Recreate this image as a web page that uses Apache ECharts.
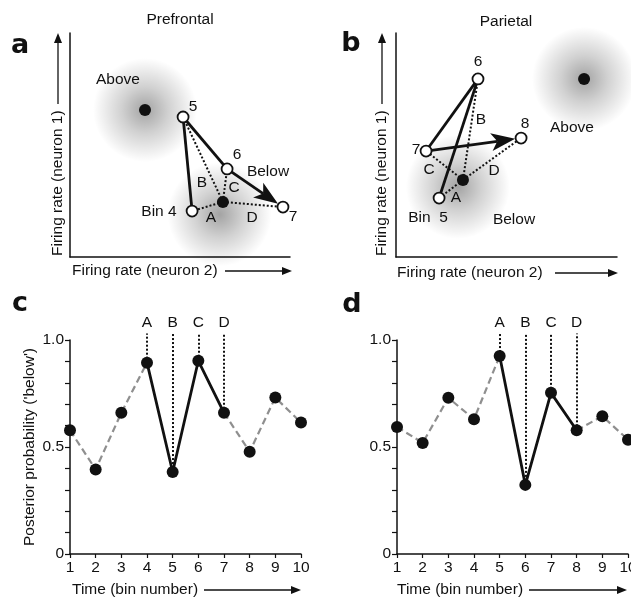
<!DOCTYPE html>
<html>
<head>
<meta charset="utf-8">
<script src="https://cdn.jsdelivr.net/npm/echarts@6.0.0/dist/echarts.min.js"></script>
<style>
  html, body { margin: 0; padding: 0; background: #fff; }
  #main { width: 631px; height: 598px; }
</style>
</head>
<body>
<div id="main"></div>
<script>
// a: prefrontal, population state per time bin (neuron 2 rate, neuron 1 rate), arbitrary units
const pfcBins = [4, 5, 6, 7];
const pfcPoints = [[5.55, 2.05], [5.14, 6.25], [7.14, 3.93], [9.68, 2.23]];
const pfcAbove = [3.41, 6.56];
const pfcBelow = [6.95, 2.46];
const pfcGlow = [[3.41, 6.56], [6.8, 1.9]];

// b: parietal
const parBins = [5, 6, 7, 8];
const parPoints = [[1.95, 2.63], [3.71, 7.95], [1.36, 4.73], [5.66, 5.31]];
const parAbove = [8.51, 7.95];
const parBelow = [3.03, 3.44];
const parGlow = [[8.51, 7.95], [2.8, 3.13]];

const distLetters = ['A', 'B', 'C', 'D'];

// c, d: posterior probability of 'below' per time bin
const timeBins = [1, 2, 3, 4, 5, 6, 7, 8, 9, 10];
const pfcPosterior = [0.578, 0.395, 0.66, 0.894, 0.383, 0.903, 0.66, 0.478, 0.731, 0.614];
const parPosterior = [0.594, 0.519, 0.73, 0.63, 0.925, 0.323, 0.753, 0.578, 0.644, 0.534];
const markTop = 1.03;
const yTickLabels = [[0, '0'], [0.5, '0.5'], [1, '1.0']];

const FONT = 'Liberation Sans, Arial, Helvetica, sans-serif';
const INK = '#111';
const FS = 15.5;

const chart = echarts.init(document.getElementById('main'));

function glowSeries(idx, pts) {
  return {
    type: 'scatter', xAxisIndex: idx, yAxisIndex: idx, silent: true, z: 1, clip: false,
    symbolSize: 104,
    itemStyle: {
      opacity: 1,
      color: {
        type: 'radial', x: 0.5, y: 0.5, r: 0.5,
        colorStops: [
          { offset: 0, color: 'rgba(0,0,0,0.36)' },
          { offset: 0.45, color: 'rgba(0,0,0,0.18)' },
          { offset: 1, color: 'rgba(0,0,0,0)' }
        ]
      }
    },
    data: pts
  };
}

function trajectorySeries(idx, pts) {
  const segs = [];
  for (let i = 0; i < pts.length - 1; i++) {
    segs.push([pts[i][0], pts[i][1], pts[i + 1][0], pts[i + 1][1], i === pts.length - 2 ? 1 : 0]);
  }
  return {
    type: 'custom', xAxisIndex: idx, yAxisIndex: idx, z: 3, silent: true, clip: false,
    data: segs,
    renderItem: function (params, api) {
      const p1 = api.coord([api.value(0), api.value(1)]);
      const p2 = api.coord([api.value(2), api.value(3)]);
      const dx = p2[0] - p1[0], dy = p2[1] - p1[1];
      const len = Math.sqrt(dx * dx + dy * dy);
      const ux = dx / len, uy = dy / len;
      if (api.value(4) !== 1) {
        return {
          type: 'line',
          shape: { x1: p1[0], y1: p1[1], x2: p2[0], y2: p2[1] },
          style: { stroke: INK, lineWidth: 2.8 }
        };
      }
      const tip = [p2[0] - ux * 6, p2[1] - uy * 6];
      const base = [tip[0] - ux * 24, tip[1] - uy * 24];
      const notch = [tip[0] - ux * 18, tip[1] - uy * 18];
      const px = -uy, py = ux;
      return {
        type: 'group',
        children: [
          {
            type: 'line',
            shape: { x1: p1[0], y1: p1[1], x2: notch[0], y2: notch[1] },
            style: { stroke: INK, lineWidth: 2.8 }
          },
          {
            type: 'polygon',
            shape: { points: [tip, [base[0] + px * 9, base[1] + py * 9], notch, [base[0] - px * 9, base[1] - py * 9]] },
            style: { fill: INK }
          }
        ]
      };
    }
  };
}

function stateSeries(idx, pts, above, below, glow) {
  return [
    glowSeries(idx, glow),
    {
      type: 'lines', coordinateSystem: 'cartesian2d', xAxisIndex: idx, yAxisIndex: idx, z: 2,
      silent: true, clip: false,
      lineStyle: { color: INK, width: 2, type: [2, 2], opacity: 1 },
      data: pts.map(p => ({ coords: [below, p] }))
    },
    trajectorySeries(idx, pts),
    {
      type: 'scatter', xAxisIndex: idx, yAxisIndex: idx, z: 4, silent: true, clip: false,
      symbolSize: 11,
      itemStyle: { color: '#fff', borderColor: INK, borderWidth: 1.8, opacity: 1 },
      data: pts
    },
    {
      type: 'scatter', xAxisIndex: idx, yAxisIndex: idx, z: 4, silent: true, clip: false,
      symbolSize: 12,
      itemStyle: { color: INK, opacity: 1 },
      data: [above, below]
    }
  ];
}

function posteriorSeries(idx, values, marked) {
  const first = marked[0] - 1, last = marked[marked.length - 1] - 1;
  const pairs = timeBins.map((t, i) => [t, values[i]]);
  const dashed = { color: '#8f8f8f', width: 2.2, type: [7, 4] };
  return [
    {
      type: 'line', xAxisIndex: idx, yAxisIndex: idx, showSymbol: false, z: 2, silent: true,
      lineStyle: dashed, data: pairs.slice(0, first + 1)
    },
    {
      type: 'line', xAxisIndex: idx, yAxisIndex: idx, showSymbol: false, z: 3, silent: true,
      lineStyle: { color: INK, width: 2.8 }, data: pairs.slice(first, last + 1)
    },
    {
      type: 'line', xAxisIndex: idx, yAxisIndex: idx, showSymbol: false, z: 2, silent: true,
      lineStyle: dashed, data: pairs.slice(last)
    },
    {
      type: 'lines', coordinateSystem: 'cartesian2d', xAxisIndex: idx, yAxisIndex: idx, z: 2,
      silent: true, clip: false,
      lineStyle: { color: INK, width: 2, type: [2, 2], opacity: 1 },
      label: { show: true, position: 'end', distance: 3, formatter: '{b}', fontSize: FS, color: INK, fontFamily: FONT },
      data: marked.map((b, i) => ({ name: distLetters[i], coords: [[b, values[b - 1]], [b, markTop]] }))
    },
    {
      type: 'scatter', xAxisIndex: idx, yAxisIndex: idx, z: 5, silent: true, clip: false,
      symbolSize: 12, itemStyle: { color: INK, opacity: 1 }, data: pairs
    }
  ];
}

const axisLine = { show: true, onZero: false, lineStyle: { color: INK, width: 1.5 } };
function stateAxis(idx) {
  return {
    type: 'value', gridIndex: idx, min: 0, max: 10,
    axisLine: axisLine, axisTick: { show: false }, axisLabel: { show: false }, splitLine: { show: false }
  };
}

const grids = [
  { left: 70, top: 33, width: 220, height: 224 },
  { left: 396, top: 33, width: 221, height: 224 },
  { left: 70, top: 340, width: 231, height: 214 },
  { left: 397, top: 340, width: 231, height: 214 }
].map(g => Object.assign({ outerBoundsMode: 'none', containLabel: false }, g));

function timeXAxis(idx) {
  return {
    type: 'value', gridIndex: idx, min: 1, max: 10, interval: 1,
    axisLine: axisLine,
    axisTick: { show: true, length: 4, lineStyle: { color: INK, width: 1.2 } },
    axisLabel: { fontSize: FS, color: INK, margin: 6, fontFamily: FONT },
    splitLine: { show: false }
  };
}
function probYAxis(idx) {
  return {
    type: 'value', gridIndex: idx, min: 0, max: 1, interval: 0.1,
    axisLine: axisLine,
    axisTick: { show: true, length: 5, lineStyle: { color: INK, width: 1.2 } },
    axisLabel: {
      fontSize: FS, color: INK, margin: 6, fontFamily: FONT,
      formatter: function (v) {
        const hit = yTickLabels.find(t => Math.abs(t[0] - v) < 1e-6);
        return hit ? hit[1] : '';
      }
    },
    splitLine: { show: false }
  };
}

// text and axis-name arrows
const gfx = [];
function txt(x, y, s, opts) {
  gfx.push(Object.assign({
    type: 'text', x: x, y: y, silent: true,
    style: Object.assign({ text: s, fontSize: FS, fill: INK, fontFamily: FONT, align: 'center', verticalAlign: 'middle' }, opts || {})
  }));
}
function hArrow(x1, x2, y) {
  gfx.push({ type: 'line', silent: true, shape: { x1: x1, y1: y, x2: x2 - 8, y2: y }, style: { stroke: INK, lineWidth: 1.3 } });
  gfx.push({ type: 'polygon', silent: true, shape: { points: [[x2, y], [x2 - 10, y - 4], [x2 - 10, y + 4]] }, style: { fill: INK } });
}
function vArrow(x, y1, y2) {
  gfx.push({ type: 'line', silent: true, shape: { x1: x, y1: y1, x2: x, y2: y2 + 8 }, style: { stroke: INK, lineWidth: 1.3 } });
  gfx.push({ type: 'polygon', silent: true, shape: { points: [[x, y2], [x - 4, y2 + 10], [x + 4, y2 + 10]] }, style: { fill: INK } });
}
function rotText(x, y, s, align) {
  gfx.push({
    type: 'text', x: x, y: y, rotation: Math.PI / 2, silent: true,
    style: { text: s, fontSize: FS, fill: INK, fontFamily: FONT, align: align, verticalAlign: 'middle' }
  });
}

const bold = { fontSize: 27, fontWeight: 'bold', fontFamily: 'DejaVu Sans, Liberation Sans, sans-serif' };
txt(20, 46, 'a', bold); txt(351, 44, 'b', bold); txt(20, 304, 'c', bold); txt(352, 305, 'd', bold);
txt(180, 20, 'Prefrontal'); txt(506, 22, 'Parietal');

// panel a names
rotText(58, 256, 'Firing rate (neuron 1)', 'left');
vArrow(58, 104, 33);
txt(72, 271, 'Firing rate (neuron 2)', { align: 'left' });
hArrow(225, 292, 271);
// panel b names
rotText(382, 256, 'Firing rate (neuron 1)', 'left');
vArrow(382, 104, 33);
txt(397, 273, 'Firing rate (neuron 2)', { align: 'left' });
hArrow(555, 618, 273);
// panel c/d names
rotText(30, 447, "Posterior probability ('below')", 'center');
txt(72, 590, 'Time (bin number)', { align: 'left' });
hArrow(204, 301, 590);
txt(397, 590, 'Time (bin number)', { align: 'left' });
hArrow(529, 627, 590);

// in-plot annotations
txt(118, 80, 'Above'); txt(193, 107, '5'); txt(237, 155, '6'); txt(268, 172, 'Below');
txt(202, 183, 'B'); txt(234, 188, 'C'); txt(159, 212, 'Bin 4'); txt(211, 218, 'A');
txt(252, 218, 'D'); txt(293, 217, '7');
txt(478, 62, '6'); txt(481, 120, 'B'); txt(525, 124, '8'); txt(572, 128, 'Above');
txt(416, 150, '7'); txt(429, 170, 'C'); txt(494, 171, 'D'); txt(456, 198, 'A');
txt(428, 218, 'Bin  5'); txt(514, 220, 'Below');

chart.setOption({
  animation: false,
  backgroundColor: '#fff',
  textStyle: { fontFamily: FONT },
  grid: grids,
  xAxis: [stateAxis(0), stateAxis(1), timeXAxis(2), timeXAxis(3)],
  yAxis: [stateAxis(0), stateAxis(1), probYAxis(2), probYAxis(3)],
  series: [].concat(
    stateSeries(0, pfcPoints, pfcAbove, pfcBelow, pfcGlow),
    stateSeries(1, parPoints, parAbove, parBelow, parGlow),
    posteriorSeries(2, pfcPosterior, pfcBins),
    posteriorSeries(3, parPosterior, parBins)
  ),
  graphic: gfx
});
</script>
</body>
</html>
